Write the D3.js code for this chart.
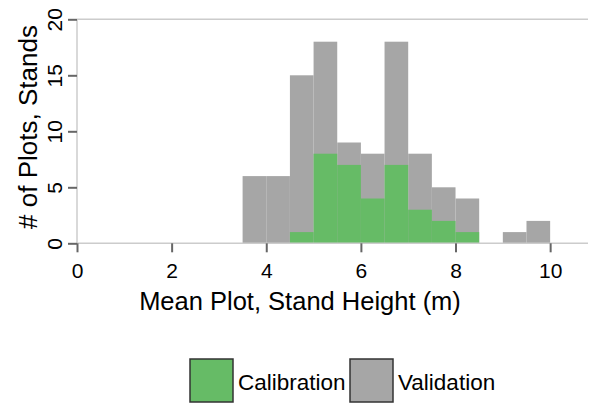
<!DOCTYPE html>
<html>
    <head>
        <meta charset="utf-8">
        <script src="https://d3js.org/d3.v7.min.js"></script>
        <style>
            body { margin: 0; background: #fff; }
            text { font-family: "Liberation Sans", Arial, sans-serif; fill: #000; }
        </style>
    </head>
    <body>
        <div id="container"></div>
        <script>
            // Data: histogram bins of width 0.5 m
            const binStarts = [3.5, 4, 4.5, 5, 5.5, 6, 6.5, 7, 7.5, 8, 8.5, 9, 9.5]
            const validationCounts = [6, 6, 15, 18, 9, 8, 18, 8, 5, 4, 0, 1, 2]
            const calibrationCounts = [0, 0, 1, 8, 7, 4, 7, 3, 2, 1, 0, 0, 0]
            const binWidth = 0.5
            const xTicks = [0, 2, 4, 6, 8, 10]
            const yTicks = [0, 5, 10, 15, 20]
            const seriesNames = ["Calibration", "Validation"]
            const seriesColors = ["#66bb66", "#a6a6a6"]

            const w = 589
            const h = 403
            const plotLeft = 77, plotRight = 588, plotTop = 19.3, plotBottom = 243.3

            const svg = d3.select("#container")
                .append("svg")
                .attr("width", w)
                .attr("height", h)

            const xScale = d3.scaleLinear()
                .domain([0, 10.8])
                .range([plotLeft, plotRight])

            const yScale = d3.scaleLinear()
                .domain([0, 20])
                .range([plotBottom, plotTop])

            // Frame lines (top and left, light gray)
            svg.append("line")
                .attr("x1", plotLeft).attr("x2", plotRight)
                .attr("y1", yScale(20)).attr("y2", yScale(20))
                .attr("stroke", "#cccccc").attr("stroke-width", 1.5)
            svg.append("line")
                .attr("x1", plotLeft).attr("x2", plotLeft)
                .attr("y1", yScale(20)).attr("y2", yScale(0))
                .attr("stroke", "#cccccc").attr("stroke-width", 1.5)

            // Bars - validation behind, calibration in front
            const drawBars = (counts, color) => {
                svg.append("g")
                    .selectAll("rect")
                    .data(binStarts.map((b, i) => ({ x0: b, n: counts[i] })).filter(d => d.n > 0))
                    .enter()
                    .append("rect")
                    .attr("x", d => xScale(d.x0))
                    .attr("y", d => yScale(d.n))
                    .attr("width", d => xScale(d.x0 + binWidth) - xScale(d.x0))
                    .attr("height", d => yScale(0) - yScale(d.n))
                    .attr("fill", color)
            }
            drawBars(validationCounts, seriesColors[1])
            drawBars(calibrationCounts, seriesColors[0])

            // Baseline
            svg.append("line")
                .attr("x1", plotLeft).attr("x2", plotRight)
                .attr("y1", yScale(0)).attr("y2", yScale(0))
                .attr("stroke", "#cccccc").attr("stroke-width", 1.5)

            // X axis
            const xAxis = d3.axisBottom(xScale)
                .tickValues(xTicks)
                .tickSize(9)
                .tickPadding(11)
                .tickFormat(d3.format("d"))
            const gx = svg.append("g")
                .attr("transform", "translate(0," + yScale(0) + ")")
                .call(xAxis)
            gx.select(".domain").remove()
            gx.selectAll(".tick line").attr("stroke", "#666").attr("stroke-width", 2)
            gx.selectAll(".tick text")
                .style("font-size", "21px")
                .style("font-family", "Liberation Sans, Arial, sans-serif")
                .attr("fill", "#000")

            // Y axis with rotated labels
            const yAxis = d3.axisLeft(yScale)
                .tickValues(yTicks)
                .tickSize(9)
                .tickFormat(d3.format("d"))
            const gy = svg.append("g")
                .attr("transform", "translate(" + plotLeft + ",0)")
                .call(yAxis)
            gy.select(".domain").remove()
            gy.selectAll(".tick line").attr("stroke", "#666").attr("stroke-width", 2)
            gy.selectAll(".tick text")
                .attr("x", null).attr("dy", null)
                .attr("text-anchor", "middle")
                .attr("transform", "translate(-15,0) rotate(-90)")
                .style("font-size", "21px")
                .style("font-family", "Liberation Sans, Arial, sans-serif")
                .attr("fill", "#000")

            // Axis titles
            svg.append("text")
                .attr("x", 300)
                .attr("y", 310)
                .attr("text-anchor", "middle")
                .style("font-size", "25.5px")
                .text("Mean Plot, Stand Height (m)")

            svg.append("text")
                .attr("transform", "translate(37,127) rotate(-90)")
                .attr("text-anchor", "middle")
                .style("font-size", "26px")
                .text("# of Plots, Stands")

            // Legend
            const legendX = [190, 350]
            const legendText = [238, 398]
            seriesNames.forEach((name, i) => {
                svg.append("rect")
                    .attr("x", legendX[i])
                    .attr("y", 359)
                    .attr("width", 43)
                    .attr("height", 43)
                    .attr("fill", seriesColors[i])
                    .attr("stroke", "#333")
                    .attr("stroke-width", 1.5)
                svg.append("text")
                    .attr("x", legendText[i])
                    .attr("y", 390)
                    .style("font-size", "22.5px")
                    .text(name)
            })
        </script>
    </body>
</html>
